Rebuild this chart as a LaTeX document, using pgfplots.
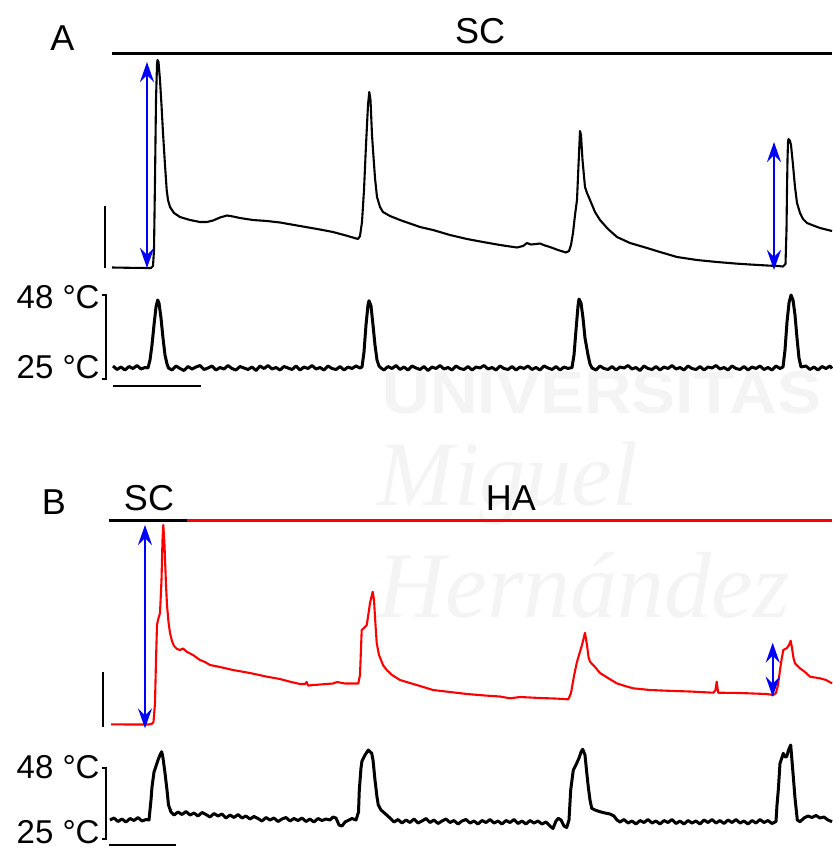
\documentclass[border=0pt]{standalone}
\usepackage{pgfplots}
\pgfplotsset{compat=1.18}
\usetikzlibrary{arrows.meta}
\usepackage{fontspec}
\setmainfont{Liberation Sans}
\newfontfamily\wmserif{Liberation Serif}
\definecolor{wm}{gray}{0.955}
\definecolor{trred}{RGB}{255,0,0}
\definecolor{arblue}{RGB}{0,0,255}
\tikzset{dbl/.style={arblue, line width=1pt, {Stealth[length=10pt,width=7pt,inset=3.5pt]}-{Stealth[length=10pt,width=7pt,inset=3.5pt]}}}
\begin{document}
\begin{tikzpicture}
\begin{axis}[
  width=416pt, height=426pt, scale only axis,
  xmin=0, xmax=832, ymin=0, ymax=852, y dir=reverse,
  hide axis, clip=false, enlargelimits=false,
]
\coordinate (bl) at (axis cs:0,852);
\coordinate (tr) at (axis cs:832,0);
% watermark
\node[anchor=base west, inner sep=0, text=wm, font=\fontsize{30}{32}\selectfont\bfseries, xscale=1.1] at (axis cs:382,413) {UNIVERSITAS};
\node[anchor=base west, inner sep=0, text=wm, font=\fontsize{46}{48}\selectfont\wmserif\itshape] at (axis cs:377,505) {Miguel};
\node[anchor=base west, inner sep=0, text=wm, font=\fontsize{47}{49}\selectfont\wmserif\itshape] at (axis cs:377,617) {Hernández};

% ---------- Panel A ----------
\addplot[black, line width=1.7pt] coordinates {(111.7,53.3) (832,53.3)};
\addplot[black, line width=1.1pt] coordinates {(105.3,206) (105.3,267.5)};
\addplot[black, line width=1.05pt, line join=round] coordinates {
(112,267.5) (130,267.8) (151,268) (153,266) (154,250) (155,180) (156,100) (157,65) (157.5,60) (158.5,62) (160,80) (161.5,105) (163,133) (165,165) (166.7,190) (168,200) (170,207) (174,213) (180,217) (190,220) (200,222) (207,222) (213,220.5) (220,217.5) (227,215.5) (233,216.5) (240,218) (253,220) (267,221) (280,222.5) (300,226) (320,229.5) (333,232) (346,235.5) (358,239) (360,236) (362,222) (364,190) (366,145) (368,105) (369.3,92) (370.5,100) (372,135) (373,150) (375,178) (377,197) (380,207) (383,212) (390,216) (400,220) (420,227) (433,230) (450,235) (467,239) (483,242) (500,245) (517,247.5) (523,246) (527,243) (531,244.5) (536,244) (540,243.5) (545,245.5) (550,247) (558,250) (566,252.5) (569,251) (571,245) (573,233) (575,215) (577,200) (578.5,165) (580,131) (581,135) (582.5,160) (585,187) (587,193) (590,200) (595,212) (600,220) (608,229) (617,237) (630,243) (647,248) (660,252) (677,257) (697,260) (717,262) (735,263.5) (750,264.5) (767,265.5) (778,266) (783,266.5) (785.5,264) (786.5,230) (787,190) (787.5,160) (788,142) (788.5,139) (790,141) (791,145) (793,165) (795,187) (797,203) (800,213) (803,219) (807,223) (812,225) (820,228) (826,229.5) (832,231)};
\addplot[dbl] coordinates {(147,62) (147,268)};
\addplot[dbl] coordinates {(774,142) (774,270)};
% temperature A
\addplot[black, line width=1.5pt, line join=round] coordinates {
(113,366) (117,369.5) (121,367) (125,370) (129,366.5) (133,368.5) (137,365.5) (141,369) (145,367.5) (148,368)
(150,360) (152,345) (154,325) (156,307) (157.7,300) (159,303) (161,318) (163,338) (165,355) (167,364) (168.5,368)
(172,370) (176,366) (180,368.5) (184,370.5) (188,366.5) (192,369) (196,367) (200,365.5) (204,369.5) (208,368) (212,366) (216,370) (220,367.5) (224,369) (228,365.5) (232,368.5) (236,370) (240,366.5) (244,368) (248,369.5) (252,367) (256,370.5) (260,366) (264,368.5) (268,365.5) (272,369) (276,367.5) (280,370) (284,366.5) (288,368) (292,369.5) (296,366) (300,370) (304,367) (308,368.5) (312,365.5) (316,369) (320,367.5) (324,370) (328,366) (332,368.5) (336,369.5) (340,366.5) (344,370) (348,367) (352,368.5) (356,366) (360,368)
(362,367) (364,352) (366,325) (368,305) (369,300.7) (371,306) (373,325) (375,345) (377,360) (379,366) (381,368)
(384,370) (388,366.5) (392,368.5) (396,365.5) (400,369.5) (404,367) (408,370) (412,366) (416,368) (420,369.5) (424,366.5) (428,370.5) (432,367) (436,368.5) (440,365.5) (444,369) (448,367.5) (452,370) (456,366) (460,368.5) (464,369.5) (468,366.5) (472,370) (476,367) (480,368) (484,365.5) (488,369) (492,367.5) (496,370) (500,366) (504,368.5) (508,369.5) (512,366.5) (516,370) (520,367) (524,368.5) (528,366) (532,369.5) (536,367.5) (540,370) (544,366) (548,368) (552,369.5) (556,366.5) (560,370) (564,367) (568,368.5) (572,367.5)
(574,355) (576,330) (578,306) (579,299) (581,303) (583,318) (585,338) (588,355) (590,364) (592,368)
(596,370) (600,366) (604,368.5) (608,369.5) (612,366.5) (616,370) (620,367) (624,368) (628,365.5) (632,369) (636,367.5) (640,370.5) (644,366) (648,368.5) (652,369.5) (656,366.5) (660,370) (664,367) (668,368.5) (672,365.5) (676,369) (680,367.5) (684,370) (688,366) (692,368.5) (696,369.5) (700,366.5) (704,370) (708,367) (712,368) (716,365.5) (720,369) (724,367.5) (728,370) (732,366) (736,368.5) (740,369.5) (744,366.5) (748,370) (752,367) (756,368.5) (760,366) (764,369.5) (768,367.5) (772,370) (776,366) (780,368.5) (783,367)
(785,350) (787,322) (789,303) (791,295) (793,300) (795,315) (797,338) (799,358) (801,367)
(806,366) (810,369.5) (814,367) (818,370) (822,366.5) (826,368.5) (830,366) (832,368.5)};
\addplot[black, line width=1.1pt] coordinates {(101.7,295) (106,295) (106,379) (101.7,379)};
\addplot[black, line width=0.8pt] coordinates {(112.7,386) (201,386)};

% ---------- Panel B ----------
\addplot[black, line width=1.6pt] coordinates {(109,520.7) (187,520.7)};
\addplot[trred, line width=1.6pt] coordinates {(186.7,520.7) (832,520.7)};
\addplot[black, line width=1.1pt] coordinates {(102.7,671.7) (102.7,726.7)};
\addplot[trred, line width=1.05pt, line join=round] coordinates {
(111,724.3) (130,724.5) (148,724.5) (151.7,724) (153.5,722) (155,703) (156,660) (157,625) (158,620) (160,613) (161.5,580) (162.5,540) (163.3,525) (164.5,545) (166,585) (167,605) (168.5,622) (170,633) (172,641) (174,646) (177,649) (180,650) (183,648.5) (186.7,651.7) (193,655) (200,660) (205,662) (210,665) (220,667) (233,670) (250,673) (267,676.7) (280,679) (290,681.7) (300,684) (305,684) (306.7,682) (308,685.5) (320,684.5) (333,683.5) (337,682) (345,683.5) (358.3,683.5) (360,675) (361.7,630) (364,628) (366.7,625) (368,617) (370,603) (372.7,591.7) (374,600) (375.5,625) (376.7,643) (379,655) (383,665) (386.7,670) (392,675) (400,680) (410,683) (420,686) (433,690) (450,692) (467,694) (485,695.5) (500,696.5) (510,698.3) (520,697) (540,698) (555,698.5) (568.3,699.3) (571,693) (574,676) (576.7,663) (579,655) (582,645) (585,632.7) (587,645) (588.5,657) (590,661.7) (595,667) (600,673) (608,678) (616.7,683.3) (625,686) (633.3,688.3) (650,690) (666.7,690.7) (690,691.5) (713.3,692.7) (715.5,690) (716.7,681.7) (717.8,690) (718.3,692.7) (740,693) (766.7,694) (773.3,695) (776,693) (778,685) (780,670) (781.5,660) (783.3,650) (786.7,648.3) (789,645) (790.7,640.7) (792,648) (793.5,658) (795,663.3) (800,668.3) (805,672) (810,676.7) (815,677.5) (820,678.3) (826,680) (832,683.3)};
\addplot[dbl] coordinates {(145,525) (145,728.3)};
\addplot[dbl] coordinates {(772.7,642.7) (772.7,696.7)};
% temperature B
\addplot[black, line width=1.5pt, line join=round] coordinates {
(110,820) (114,818) (118,821.5) (122,819) (126,822) (130,818.5) (134,820.5) (138,817.5) (142,821) (146,819.5) (149,820)
(151,800) (152,787) (154,772) (156,766) (158,760) (160,755) (161.7,751.7) (163,758) (165,773) (167,790) (168.5,805) (171,812)
(174,815) (178,812) (182,814.5) (186,811.5) (190,815) (194,813) (198,816) (202,812.5) (206,814.5) (210,817) (214,813.5) (218,816) (222,814) (226,818) (230,815) (234,817.5) (238,814.5) (242,818) (246,816) (250,819) (254,816.5) (258,818.5) (262,821) (266,817.5) (270,820) (274,818) (278,821.5) (282,819) (286,817.5) (290,821) (294,818.5) (298,820.5) (302,818) (306,821.5) (310,819) (314,822) (318,818.5) (322,820.5) (326,819) (330,820) (333,817) (336,818) (339,825) (342,826) (345,822) (348,820.5) (352,818.5) (356,820)
(358.5,812) (359.3,790) (361,768) (362,761) (365,755) (368.3,750) (371.7,753.3) (373,760) (375,780) (377,797) (378.3,805) (381,810) (386.7,815)
(390,818) (394,822) (398,819.5) (402,823) (406,820) (410,822.5) (414,819) (418,823) (422,821) (426,818.5) (430,822.5) (434,820) (438,823.5) (442,821) (446,819) (450,822.5) (454,820.5) (458,824) (462,821) (466,819.5) (470,823) (474,821) (478,824) (482,820.5) (486,822.5) (490,819.5) (494,823) (498,821) (502,824) (506,820.5) (510,822.5) (514,819.5) (518,823.5) (522,821) (526,824) (530,820.5) (534,823) (538,821) (542,824) (546,822) (550,826) (553,828.5) (556,821) (558.3,818.3) (561,820) (564,826) (566.7,827.5) (569,820)
(570.7,790) (573.3,770) (576.7,763.3) (579,758) (581,752) (582.7,749.3) (585,755) (587,775) (588.3,787) (590,800) (591.7,808.3) (595,810) (600,811.7) (605,813) (610,814) (614,816) (617,820)
(620,822) (624,819.5) (628,823) (632,821) (636,824) (640,820.5) (644,822.5) (648,819.5) (652,823) (656,821) (660,824) (664,820.5) (668,822.5) (672,819.5) (676,823.5) (680,821) (684,824) (688,820.5) (692,823) (696,821) (700,824) (704,820) (708,822.5) (712,819.5) (716,823) (720,820.5) (724,823.5) (728,820) (732,822.5) (736,819.5) (740,823) (744,821) (748,824) (752,820.5) (756,823) (760,819.5) (764,822.5) (768,820.5) (772,823.5) (776,821.5)
(777,805) (778.3,790) (780,763.3) (783.3,753.3) (785,757) (786.7,756.7) (788.5,750) (790.7,745) (793.3,776.7) (795,798) (797.3,820)
(800,821.7) (804,818) (808,816) (812,817.5) (816,815.5) (820,818) (824,817) (828,820) (832,821.7)};
\addplot[black, line width=1.1pt] coordinates {(101.7,768.3) (106,768.3) (106,839.3) (101.7,839.3)};
\addplot[black, line width=0.8pt] coordinates {(109.3,845) (176,845)};

% ---------- labels ----------
\node[anchor=base, inner sep=0, font=\fontsize{18}{20}\selectfont] at (axis cs:62.5,50) {A};
\node[anchor=base, inner sep=0, font=\fontsize{18}{20}\selectfont] at (axis cs:480,43.3) {SC};
\node[anchor=base, inner sep=0, font=\fontsize{18}{20}\selectfont] at (axis cs:54,514) {B};
\node[anchor=base, inner sep=0, font=\fontsize{18}{20}\selectfont] at (axis cs:149,510) {SC};
\node[anchor=base, inner sep=0, font=\fontsize{18}{20}\selectfont] at (axis cs:511,510) {HA};
\node[anchor=base east, inner sep=0, font=\fontsize{16.5}{18}\selectfont] at (axis cs:100,308.3) {48 °C};
\node[anchor=base east, inner sep=0, font=\fontsize{16.5}{18}\selectfont] at (axis cs:100,378.3) {25 °C};
\node[anchor=base east, inner sep=0, font=\fontsize{16.5}{18}\selectfont] at (axis cs:100,778.3) {48 °C};
\node[anchor=base east, inner sep=0, font=\fontsize{16.5}{18}\selectfont] at (axis cs:100,843) {25 °C};
\end{axis}
\pgfresetboundingbox
\path[use as bounding box] (bl) rectangle (tr);
\end{tikzpicture}
\end{document}
